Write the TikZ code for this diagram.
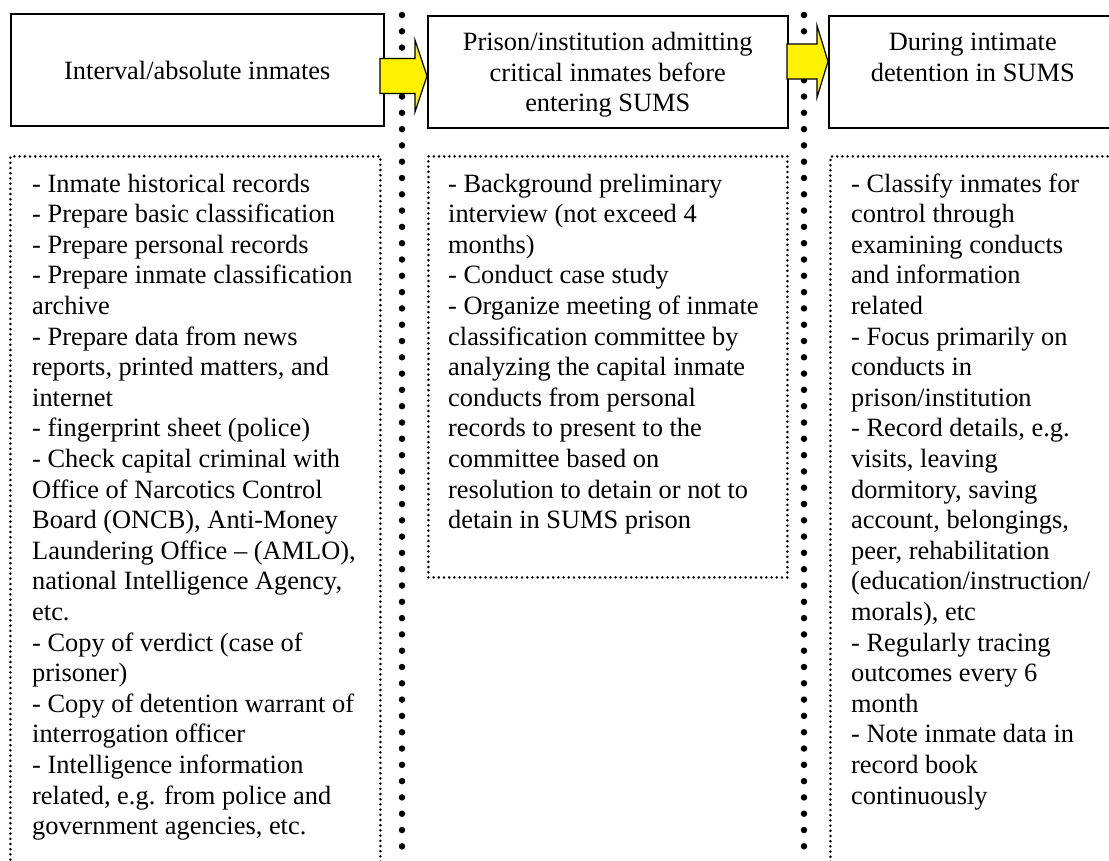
\documentclass[tikz,border=0pt]{standalone}
\usepackage{fontspec}
\setmainfont{Liberation Serif}
\usetikzlibrary{calc}
\tikzset{
  txtfont/.style={font=\fontsize{26.4pt}{30.6pt}\selectfont},
  titlebox/.style={draw, line width=1.5pt, inner sep=0pt, anchor=north west, txtfont},
  dotbox/.style={draw, line width=2.8pt, dash pattern=on 0pt off 5.2pt, line cap=round, inner sep=0pt, anchor=north west},
  listtext/.style={inner sep=0pt, anchor=base west, txtfont},
  sepline/.style={line width=6.5pt, dash pattern=on 0pt off 16.3pt, line cap=round},
  yarrow/.style={fill=yellow, draw=black, line width=1.2pt, line join=miter}
}
\begin{document}
\begin{tikzpicture}[x=1pt,y=-1pt]
\useasboundingbox (0,0) rectangle (1109,860);
\clip (0,0) rectangle (1109,860);

% separators
\coordinate (s1t) at (402,15);
\coordinate (s1b) at (402,848);
\coordinate (s2t) at (804,15);
\coordinate (s2b) at (804,848);
\draw[sepline] (s1t) -- (s1b);
\draw[sepline] (s2t) -- (s2b);

% title boxes
\node[titlebox, text height=66pt, text depth=46pt] (b1) at (10,13)
  {\begin{minipage}[t]{373pt}\centering Interval/absolute inmates\end{minipage}};
\node[titlebox, text height=35pt, text depth=77pt] (b2) at (427,15)
  {\begin{minipage}[t]{360pt}\centering Prison/institution admitting\\ critical inmates before\\ entering SUMS\end{minipage}};
\node[titlebox, text height=35pt, text depth=77pt] (b3) at (828,15)
  {\begin{minipage}[t]{288pt}\centering During intimate\\ detention in SUMS\end{minipage}};

% dotted boxes
\node[dotbox, minimum width=370pt, minimum height=720pt] (d1) at (9,155) {};
\node[dotbox, minimum width=359pt, minimum height=421pt] (d2) at (427,155) {};
\node[dotbox, minimum width=400pt, minimum height=720pt] (d3) at (829,155) {};

% list texts
\node[listtext] (l1) at (32,192) {\begin{minipage}[t]{345pt}\raggedright
- Inmate historical records\\
- Prepare basic classification\\
- Prepare personal records\\
- Prepare inmate classification\\
archive\\
- Prepare data from news\\
reports, printed matters, and\\
internet\\
- fingerprint sheet (police)\\
- Check capital criminal with\\
Office of Narcotics Control\\
Board (ONCB), Anti-Money\\
Laundering Office -- (AMLO),\\
national Intelligence Agency,\\
etc.\\
- Copy of verdict (case of\\
prisoner)\\
- Copy of detention warrant of\\
interrogation officer\\
- Intelligence information\\
related, e.g. from police and\\
government agencies, etc.\end{minipage}};

\node[listtext] (l2) at (448,192) {\begin{minipage}[t]{335pt}\raggedright
- Background preliminary\\
interview (not exceed 4\\
months)\\
- Conduct case study\\
- Organize meeting of inmate\\
classification committee by\\
analyzing the capital inmate\\
conducts from personal\\
records to present to the\\
committee based on\\
resolution to detain or not to\\
detain in SUMS prison\end{minipage}};

\node[listtext] (l3) at (851,192) {\begin{minipage}[t]{250pt}\raggedright
- Classify inmates for\\
control through\\
examining conducts\\
and information\\
related\\
- Focus primarily on\\
conducts in\\
prison/institution\\
- Record details, e.g.\\
visits, leaving\\
dormitory, saving\\
account, belongings,\\
peer, rehabilitation\\
(education/instruction/\\
morals), etc\\
- Regularly tracing\\
outcomes every 6\\
month\\
- Note inmate data in\\
record book\\
continuously\end{minipage}};

% block arrows
\coordinate (T1) at (b2.west |- 0,76);
\coordinate (T2) at (b3.west |- 0,61.5);
\filldraw[yarrow] ($(T1)+(-47,-17.5)$) -- ($(T1)+(-12,-17.5)$) -- ($(T1)+(-12,-36)$) -- (T1)
  -- ($(T1)+(-12,36)$) -- ($(T1)+(-12,17.5)$) -- ($(T1)+(-47,17.5)$) -- cycle;
\filldraw[yarrow] ($(T2)+(-41,-17.5)$) -- ($(T2)+(-11,-17.5)$) -- ($(T2)+(-11,-36)$) -- (T2)
  -- ($(T2)+(-11,36)$) -- ($(T2)+(-11,17.5)$) -- ($(T2)+(-41,17.5)$) -- cycle;
\end{tikzpicture}
\end{document}
